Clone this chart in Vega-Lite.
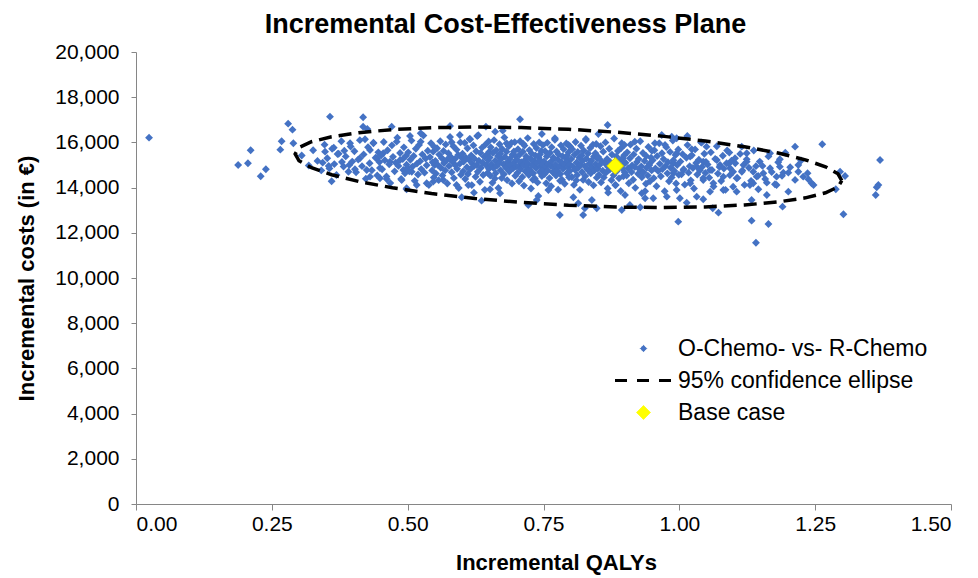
{
"$schema":"https://vega.github.io/schema/vega-lite/v6.json",
"width":815,"height":452,
"autosize":{"type":"none"},
"padding":{"left":136,"top":52,"right":27,"bottom":74},
"background":"white",
"title":{"text":"Incremental Cost-Effectiveness Plane","font":"Liberation Sans","fontSize":27,"fontWeight":"bold","color":"black","anchor":"middle","dx":-38,"offset":2},
"config":{"view":{"stroke":null},
"axis":{"domainColor":"#868686","tickColor":"#868686","tickSize":6,"grid":false,"labelFont":"Liberation Sans","labelFontSize":21,"labelColor":"black","titleFont":"Liberation Sans","titleFontSize":22,"titleFontWeight":"bold","titleColor":"black"}},
"datasets":{
"psa":[
{"qaly":0.024,"cost":16209},{"qaly":0.188,"cost":15000},{"qaly":0.206,"cost":15076},{"qaly":0.211,"cost":15651},{"qaly":0.2295,"cost":14500},{"qaly":0.239,"cost":14810},{"qaly":0.2656,"cost":15678},{"qaly":0.268,"cost":16050},{"qaly":0.28,"cost":16829},{"qaly":0.288,"cost":16563},{"qaly":0.2896,"cost":15961},{"qaly":0.357,"cost":17139},{"qaly":0.348,"cost":15590},{"qaly":0.364,"cost":15767},{"qaly":0.3436,"cost":15103},{"qaly":0.3547,"cost":14957},{"qaly":0.36,"cost":14280},{"qaly":0.371,"cost":15488},{"qaly":0.3834,"cost":15634},{"qaly":0.379,"cost":15134},{"qaly":0.394,"cost":15961},{"qaly":0.418,"cost":17111},{"qaly":0.418,"cost":16696},{"qaly":0.4257,"cost":16594},{"qaly":0.4215,"cost":16138},{"qaly":0.437,"cost":15961},{"qaly":0.4706,"cost":16696},{"qaly":0.3926,"cost":15000},{"qaly":0.403,"cost":14810},{"qaly":0.412,"cost":15297},{"qaly":0.4246,"cost":14780},{"qaly":0.4307,"cost":14483},{"qaly":0.449,"cost":14412},{"qaly":0.4614,"cost":14381},{"qaly":0.498,"cost":13925},{"qaly":0.443,"cost":15297},{"qaly":0.455,"cost":15519},{"qaly":0.4675,"cost":15147},{"qaly":0.4798,"cost":16032},{"qaly":0.486,"cost":15222},{"qaly":0.492,"cost":14780},{"qaly":0.4307,"cost":15665},
{"qaly":0.995,"cost":16182},{"qaly":1.0147,"cost":16284},{"qaly":1.0228,"cost":15696},{"qaly":1.041,"cost":15988},{"qaly":1.05,"cost":15811},{"qaly":1.1148,"cost":15811},{"qaly":1.124,"cost":15519},{"qaly":1.092,"cost":15548},{"qaly":1.1025,"cost":15297},{"qaly":1.167,"cost":15519},{"qaly":1.185,"cost":15253},{"qaly":1.213,"cost":15811},{"qaly":1.263,"cost":15917},{"qaly":1.219,"cost":15000},{"qaly":1.219,"cost":14704},{"qaly":1.2375,"cost":14368},{"qaly":1.2436,"cost":14191},{"qaly":1.2006,"cost":14660},{"qaly":1.2958,"cost":14704},{"qaly":1.305,"cost":14514},{"qaly":1.3694,"cost":15222},{"qaly":1.3663,"cost":14116},{"qaly":1.3633,"cost":14014},{"qaly":1.3614,"cost":13673},{"qaly":1.302,"cost":12819},{"qaly":1.288,"cost":13925},{"qaly":1.19,"cost":13156},{"qaly":1.164,"cost":12390},{"qaly":1.141,"cost":11562},{"qaly":1.133,"cost":12536},{"qaly":1.133,"cost":13452},{"qaly":0.998,"cost":12492},{"qaly":1.072,"cost":12890},{"qaly":1.0615,"cost":13085},{"qaly":1.0136,"cost":13333},{"qaly":1.044,"cost":13483},{"qaly":1.1454,"cost":13925},{"qaly":1.161,"cost":13673},{"qaly":1.2006,"cost":13820},{"qaly":1.179,"cost":14116},{"qaly":1.161,"cost":14218},{"qaly":1.1424,"cost":14483},{"qaly":1.13,"cost":14116},{"qaly":1.167,"cost":14855},{"qaly":1.179,"cost":14483},{"qaly":1.1914,"cost":14660},{"qaly":1.1546,"cost":14634},{"qaly":1.1055,"cost":14412},{"qaly":1.081,"cost":14483},{"qaly":1.075,"cost":15000},{"qaly":1.0933,"cost":14855},{"qaly":1.115,"cost":14704},{"qaly":1.118,"cost":15000},{"qaly":1.136,"cost":14704},{"qaly":1.099,"cost":14040},{"qaly":1.1055,"cost":13820},{"qaly":1.081,"cost":13895},{"qaly":1.0565,"cost":13820},{"qaly":1.032,"cost":13598},{"qaly":1.001,"cost":13527},{"qaly":0.995,"cost":13895},{"qaly":1.02,"cost":14191},{"qaly":1.044,"cost":14337},{"qaly":1.0626,"cost":14191},{"qaly":0.989,"cost":14634},{"qaly":1.0074,"cost":14780},{"qaly":1.032,"cost":14926},{"qaly":1.044,"cost":15147},{"qaly":1.0565,"cost":14780},{"qaly":1.02,"cost":15371},{"qaly":0.995,"cost":15519},{"qaly":0.989,"cost":15076},{"qaly":1.069,"cost":15222},{"qaly":1.087,"cost":15076},{"qaly":1.136,"cost":14191},{"qaly":1.185,"cost":14926},{"qaly":1.228,"cost":14483},{"qaly":1.124,"cost":15147},
{"qaly":0.578,"cost":16727},{"qaly":0.644,"cost":16696},{"qaly":0.661,"cost":16474},{"qaly":0.675,"cost":16519},{"qaly":0.7068,"cost":17023},{"qaly":0.5043,"cost":16284},{"qaly":0.524,"cost":16403},{"qaly":0.524,"cost":16032},{"qaly":0.596,"cost":16328},{"qaly":0.615,"cost":16138},{"qaly":0.628,"cost":16284},{"qaly":0.581,"cost":16004},{"qaly":0.713,"cost":15930},{"qaly":0.682,"cost":15961},{"qaly":0.498,"cost":13970},{"qaly":0.5166,"cost":14116},{"qaly":0.535,"cost":14191},{"qaly":0.547,"cost":14263},{"qaly":0.5995,"cost":13572},{"qaly":0.622,"cost":13775},{"qaly":0.636,"cost":13421},{"qaly":0.6516,"cost":13925},{"qaly":0.67,"cost":13749},{"qaly":0.722,"cost":13231},{"qaly":0.7375,"cost":13452},{"qaly":0.59,"cost":14116},{"qaly":0.5075,"cost":14704},{"qaly":0.489,"cost":14337},{"qaly":0.5656,"cost":14337},{"qaly":0.6116,"cost":14116},
{"qaly":0.868,"cost":16771},{"qaly":0.851,"cost":16373},{"qaly":0.828,"cost":16107},{"qaly":0.771,"cost":16182},{"qaly":0.747,"cost":16373},{"qaly":0.796,"cost":15886},{"qaly":0.9676,"cost":16328},{"qaly":0.986,"cost":16253},{"qaly":0.955,"cost":15961},{"qaly":0.9737,"cost":15886},{"qaly":0.918,"cost":16032},{"qaly":0.894,"cost":15961},{"qaly":0.78,"cost":12788},{"qaly":0.823,"cost":12788},{"qaly":0.839,"cost":13452},{"qaly":0.826,"cost":13085},{"qaly":0.848,"cost":13085},{"qaly":0.814,"cost":13306},{"qaly":0.805,"cost":13572},{"qaly":0.759,"cost":13895},{"qaly":0.7405,"cost":13629},{"qaly":0.894,"cost":13009},{"qaly":0.909,"cost":13231},{"qaly":0.937,"cost":13527},{"qaly":0.928,"cost":13129},{"qaly":0.952,"cost":13527},{"qaly":0.977,"cost":13598},{"qaly":0.931,"cost":13749},{"qaly":0.9,"cost":13673},{"qaly":0.869,"cost":13775},{"qaly":0.882,"cost":14116},
{"qaly":0.305,"cost":15420},{"qaly":0.318,"cost":14980},{"qaly":0.326,"cost":15650},{"qaly":0.334,"cost":15180},{"qaly":0.341,"cost":14760},{"qaly":0.347,"cost":15900},
{"qaly":0.352,"cost":15300},{"qaly":0.356,"cost":14850},{"qaly":0.361,"cost":15720},{"qaly":0.365,"cost":15040},{"qaly":0.369,"cost":14560},{"qaly":0.373,"cost":15500},{"qaly":0.378,"cost":16050},{"qaly":0.382,"cost":14930},{"qaly":0.386,"cost":15380},{"qaly":0.391,"cost":14700},{"qaly":0.395,"cost":15820},{"qaly":0.398,"cost":15150},
{"qaly":0.402,"cost":15610},{"qaly":0.405,"cost":14680},{"qaly":0.409,"cost":15240},{"qaly":0.412,"cost":16100},{"qaly":0.416,"cost":14950},{"qaly":0.419,"cost":15470},{"qaly":0.423,"cost":14390},{"qaly":0.427,"cost":15790},{"qaly":0.43,"cost":15080},{"qaly":0.434,"cost":14770},{"qaly":0.437,"cost":15990},{"qaly":0.441,"cost":15320},{"qaly":0.444,"cost":14540},{"qaly":0.446,"cost":15560},{"qaly":0.448,"cost":15130},{"qaly":0.449,"cost":14870},
{"qaly":0.451,"cost":15420},{"qaly":0.453,"cost":14810},{"qaly":0.456,"cost":16020},{"qaly":0.458,"cost":15210},{"qaly":0.461,"cost":14490},{"qaly":0.463,"cost":15650},{"qaly":0.466,"cost":15030},{"qaly":0.468,"cost":14200},{"qaly":0.471,"cost":15870},{"qaly":0.473,"cost":15360},{"qaly":0.476,"cost":14720},{"qaly":0.478,"cost":15100},{"qaly":0.481,"cost":16210},{"qaly":0.483,"cost":14960},{"qaly":0.486,"cost":15530},{"qaly":0.488,"cost":14380},{"qaly":0.491,"cost":15260},{"qaly":0.493,"cost":15780},{"qaly":0.495,"cost":14630},{"qaly":0.497,"cost":15410},{"qaly":0.498,"cost":15010},{"qaly":0.499,"cost":14860},
{"qaly":0.501,"cost":15560},{"qaly":0.503,"cost":14720},{"qaly":0.505,"cost":15230},{"qaly":0.507,"cost":16080},{"qaly":0.509,"cost":14930},{"qaly":0.511,"cost":15400},{"qaly":0.513,"cost":14300},{"qaly":0.515,"cost":15720},{"qaly":0.517,"cost":15060},{"qaly":0.519,"cost":14580},{"qaly":0.521,"cost":15890},{"qaly":0.523,"cost":15170},{"qaly":0.525,"cost":14820},{"qaly":0.527,"cost":15470},{"qaly":0.529,"cost":16300},{"qaly":0.531,"cost":14660},{"qaly":0.533,"cost":15290},{"qaly":0.535,"cost":14990},{"qaly":0.537,"cost":15630},{"qaly":0.539,"cost":14110},{"qaly":0.541,"cost":15350},{"qaly":0.543,"cost":15960},{"qaly":0.545,"cost":14760},{"qaly":0.546,"cost":15120},{"qaly":0.547,"cost":15590},{"qaly":0.548,"cost":14450},{"qaly":0.549,"cost":15800},{"qaly":0.5495,"cost":15000},
{"qaly":0.551,"cost":15180},{"qaly":0.552,"cost":14620},{"qaly":0.554,"cost":15740},{"qaly":0.555,"cost":15010},{"qaly":0.557,"cost":14330},{"qaly":0.558,"cost":15460},{"qaly":0.56,"cost":16050},{"qaly":0.561,"cost":14880},{"qaly":0.563,"cost":15300},{"qaly":0.564,"cost":14540},{"qaly":0.566,"cost":15620},{"qaly":0.567,"cost":15090},{"qaly":0.569,"cost":14760},{"qaly":0.57,"cost":15910},{"qaly":0.572,"cost":15220},{"qaly":0.573,"cost":14180},{"qaly":0.575,"cost":15520},{"qaly":0.576,"cost":14950},{"qaly":0.578,"cost":16240},{"qaly":0.579,"cost":15370},{"qaly":0.581,"cost":14680},{"qaly":0.582,"cost":15140},{"qaly":0.584,"cost":15830},{"qaly":0.585,"cost":14420},{"qaly":0.587,"cost":15260},{"qaly":0.588,"cost":14990},{"qaly":0.59,"cost":15680},{"qaly":0.591,"cost":14830},{"qaly":0.593,"cost":15440},{"qaly":0.594,"cost":13980},{"qaly":0.596,"cost":15060},{"qaly":0.597,"cost":16000},{"qaly":0.598,"cost":14570},{"qaly":0.599,"cost":15330},
{"qaly":0.601,"cost":15500},{"qaly":0.602,"cost":14720},{"qaly":0.603,"cost":15150},{"qaly":0.605,"cost":15980},{"qaly":0.606,"cost":14380},{"qaly":0.607,"cost":15320},{"qaly":0.609,"cost":14900},{"qaly":0.61,"cost":15740},{"qaly":0.611,"cost":14600},{"qaly":0.613,"cost":15230},{"qaly":0.614,"cost":16150},{"qaly":0.615,"cost":14810},{"qaly":0.617,"cost":15420},{"qaly":0.618,"cost":14110},{"qaly":0.619,"cost":15060},{"qaly":0.621,"cost":15870},{"qaly":0.622,"cost":14950},{"qaly":0.623,"cost":15280},{"qaly":0.625,"cost":14480},{"qaly":0.626,"cost":15610},{"qaly":0.627,"cost":15000},{"qaly":0.629,"cost":14700},{"qaly":0.63,"cost":16320},{"qaly":0.631,"cost":15190},{"qaly":0.633,"cost":14260},{"qaly":0.634,"cost":15530},{"qaly":0.635,"cost":14880},{"qaly":0.637,"cost":15770},{"qaly":0.638,"cost":15100},{"qaly":0.639,"cost":14560},{"qaly":0.641,"cost":15360},{"qaly":0.642,"cost":13900},{"qaly":0.643,"cost":15900},{"qaly":0.645,"cost":14990},{"qaly":0.646,"cost":15460},{"qaly":0.647,"cost":14650},{"qaly":0.648,"cost":15210},{"qaly":0.649,"cost":16040},{"qaly":0.6495,"cost":14830},{"qaly":0.6498,"cost":15580},
{"qaly":0.651,"cost":15330},{"qaly":0.652,"cost":14530},{"qaly":0.653,"cost":15780},{"qaly":0.654,"cost":15020},{"qaly":0.656,"cost":14210},{"qaly":0.657,"cost":15540},{"qaly":0.658,"cost":14870},{"qaly":0.659,"cost":16100},{"qaly":0.661,"cost":15190},{"qaly":0.662,"cost":14640},{"qaly":0.663,"cost":15650},{"qaly":0.664,"cost":14960},{"qaly":0.666,"cost":15400},{"qaly":0.667,"cost":13980},{"qaly":0.668,"cost":15080},{"qaly":0.669,"cost":15920},{"qaly":0.671,"cost":14770},{"qaly":0.672,"cost":15260},{"qaly":0.673,"cost":14420},{"qaly":0.674,"cost":15710},{"qaly":0.676,"cost":15030},{"qaly":0.677,"cost":14590},{"qaly":0.678,"cost":16220},{"qaly":0.679,"cost":15360},{"qaly":0.681,"cost":14880},{"qaly":0.682,"cost":15590},{"qaly":0.683,"cost":14330},{"qaly":0.684,"cost":15140},{"qaly":0.686,"cost":15830},{"qaly":0.687,"cost":14710},{"qaly":0.688,"cost":15270},{"qaly":0.689,"cost":14980},{"qaly":0.691,"cost":15980},{"qaly":0.692,"cost":14180},{"qaly":0.693,"cost":15460},{"qaly":0.694,"cost":14850},{"qaly":0.696,"cost":15120},{"qaly":0.697,"cost":16010},{"qaly":0.698,"cost":14520},{"qaly":0.699,"cost":15380},{"qaly":0.6995,"cost":14930},{"qaly":0.6955,"cost":15600},{"qaly":0.6605,"cost":14400},{"qaly":0.6705,"cost":15500},
{"qaly":0.701,"cost":15240},{"qaly":0.702,"cost":14650},{"qaly":0.703,"cost":15700},{"qaly":0.704,"cost":14960},{"qaly":0.705,"cost":14280},{"qaly":0.706,"cost":15450},{"qaly":0.707,"cost":16050},{"qaly":0.708,"cost":14820},{"qaly":0.709,"cost":15130},{"qaly":0.711,"cost":14470},{"qaly":0.712,"cost":15590},{"qaly":0.713,"cost":15010},{"qaly":0.714,"cost":14090},{"qaly":0.715,"cost":15860},{"qaly":0.716,"cost":15220},{"qaly":0.717,"cost":14710},{"qaly":0.718,"cost":15380},{"qaly":0.719,"cost":14900},{"qaly":0.721,"cost":16190},{"qaly":0.722,"cost":15060},{"qaly":0.723,"cost":14560},{"qaly":0.724,"cost":15660},{"qaly":0.725,"cost":14780},{"qaly":0.726,"cost":15290},{"qaly":0.727,"cost":13960},{"qaly":0.728,"cost":15510},{"qaly":0.729,"cost":15000},{"qaly":0.731,"cost":14630},{"qaly":0.732,"cost":15930},{"qaly":0.733,"cost":15170},{"qaly":0.734,"cost":14400},{"qaly":0.735,"cost":15420},{"qaly":0.736,"cost":14870},{"qaly":0.737,"cost":15750},{"qaly":0.738,"cost":15100},{"qaly":0.739,"cost":14230},{"qaly":0.741,"cost":15340},{"qaly":0.742,"cost":16000},{"qaly":0.743,"cost":14690},{"qaly":0.744,"cost":15210},{"qaly":0.745,"cost":14950},{"qaly":0.746,"cost":15620},{"qaly":0.747,"cost":14510},{"qaly":0.748,"cost":15050},{"qaly":0.749,"cost":15880},{"qaly":0.7495,"cost":14800},{"qaly":0.7435,"cost":15470},{"qaly":0.7305,"cost":14350},
{"qaly":0.751,"cost":15160},{"qaly":0.752,"cost":14600},{"qaly":0.753,"cost":15610},{"qaly":0.754,"cost":14930},{"qaly":0.755,"cost":14190},{"qaly":0.756,"cost":15380},{"qaly":0.757,"cost":15980},{"qaly":0.758,"cost":14760},{"qaly":0.759,"cost":15050},{"qaly":0.761,"cost":14420},{"qaly":0.762,"cost":15540},{"qaly":0.763,"cost":14980},{"qaly":0.764,"cost":14060},{"qaly":0.765,"cost":15790},{"qaly":0.766,"cost":15200},{"qaly":0.767,"cost":14680},{"qaly":0.768,"cost":15330},{"qaly":0.769,"cost":14870},{"qaly":0.771,"cost":16120},{"qaly":0.772,"cost":15010},{"qaly":0.773,"cost":14530},{"qaly":0.774,"cost":15600},{"qaly":0.775,"cost":14750},{"qaly":0.776,"cost":15250},{"qaly":0.777,"cost":13910},{"qaly":0.778,"cost":15470},{"qaly":0.779,"cost":14950},{"qaly":0.781,"cost":14600},{"qaly":0.782,"cost":15870},{"qaly":0.783,"cost":15120},{"qaly":0.784,"cost":14350},{"qaly":0.785,"cost":15390},{"qaly":0.786,"cost":14830},{"qaly":0.787,"cost":15700},{"qaly":0.788,"cost":15040},{"qaly":0.789,"cost":14170},{"qaly":0.791,"cost":15300},{"qaly":0.792,"cost":15950},{"qaly":0.793,"cost":14640},{"qaly":0.794,"cost":15180},{"qaly":0.795,"cost":14900},{"qaly":0.796,"cost":15560},{"qaly":0.797,"cost":14460},{"qaly":0.798,"cost":15020},{"qaly":0.799,"cost":15820},{"qaly":0.7985,"cost":14740},{"qaly":0.7935,"cost":15420},{"qaly":0.7805,"cost":14300},
{"qaly":0.801,"cost":15260},{"qaly":0.802,"cost":14470},{"qaly":0.803,"cost":15700},{"qaly":0.804,"cost":14940},{"qaly":0.806,"cost":14120},{"qaly":0.807,"cost":15450},{"qaly":0.808,"cost":14790},{"qaly":0.809,"cost":16020},{"qaly":0.811,"cost":15110},{"qaly":0.812,"cost":14560},{"qaly":0.813,"cost":15580},{"qaly":0.814,"cost":14880},{"qaly":0.816,"cost":15320},{"qaly":0.817,"cost":13900},{"qaly":0.818,"cost":15000},{"qaly":0.819,"cost":15850},{"qaly":0.821,"cost":14690},{"qaly":0.822,"cost":15180},{"qaly":0.823,"cost":14340},{"qaly":0.824,"cost":15640},{"qaly":0.826,"cost":14950},{"qaly":0.827,"cost":14510},{"qaly":0.828,"cost":16150},{"qaly":0.829,"cost":15280},{"qaly":0.831,"cost":14800},{"qaly":0.832,"cost":15510},{"qaly":0.833,"cost":14250},{"qaly":0.834,"cost":15060},{"qaly":0.836,"cost":15750},{"qaly":0.837,"cost":14630},{"qaly":0.838,"cost":15190},{"qaly":0.839,"cost":14900},{"qaly":0.841,"cost":15900},{"qaly":0.842,"cost":14100},{"qaly":0.843,"cost":15380},{"qaly":0.844,"cost":14770},{"qaly":0.846,"cost":15040},{"qaly":0.847,"cost":15930},{"qaly":0.848,"cost":14440},{"qaly":0.849,"cost":15300},{"qaly":0.8495,"cost":14850},{"qaly":0.8455,"cost":15520},{"qaly":0.8105,"cost":14320},{"qaly":0.8205,"cost":15420},
{"qaly":0.851,"cost":15350},{"qaly":0.852,"cost":14570},{"qaly":0.853,"cost":15000},{"qaly":0.855,"cost":15830},{"qaly":0.856,"cost":14230},{"qaly":0.857,"cost":15170},{"qaly":0.859,"cost":14750},{"qaly":0.86,"cost":15590},{"qaly":0.861,"cost":14450},{"qaly":0.863,"cost":15080},{"qaly":0.864,"cost":16000},{"qaly":0.865,"cost":14660},{"qaly":0.867,"cost":15270},{"qaly":0.868,"cost":13960},{"qaly":0.869,"cost":14910},{"qaly":0.871,"cost":15720},{"qaly":0.872,"cost":14800},{"qaly":0.873,"cost":15130},{"qaly":0.875,"cost":14330},{"qaly":0.876,"cost":15460},{"qaly":0.877,"cost":14850},{"qaly":0.879,"cost":14550},{"qaly":0.88,"cost":16170},{"qaly":0.881,"cost":15040},{"qaly":0.883,"cost":14110},{"qaly":0.884,"cost":15380},{"qaly":0.885,"cost":14730},{"qaly":0.887,"cost":15620},{"qaly":0.888,"cost":14950},{"qaly":0.889,"cost":14410},{"qaly":0.891,"cost":15210},{"qaly":0.892,"cost":13850},{"qaly":0.893,"cost":15750},{"qaly":0.895,"cost":14840},{"qaly":0.896,"cost":15310},{"qaly":0.897,"cost":14500},{"qaly":0.898,"cost":15060},{"qaly":0.899,"cost":15890},{"qaly":0.8995,"cost":14680},{"qaly":0.8985,"cost":15430},
{"qaly":0.901,"cost":15100},{"qaly":0.903,"cost":14530},{"qaly":0.904,"cost":15560},{"qaly":0.906,"cost":14860},{"qaly":0.907,"cost":14190},{"qaly":0.909,"cost":15300},{"qaly":0.91,"cost":15900},{"qaly":0.912,"cost":14690},{"qaly":0.913,"cost":14980},{"qaly":0.915,"cost":14350},{"qaly":0.916,"cost":15470},{"qaly":0.918,"cost":14910},{"qaly":0.919,"cost":13990},{"qaly":0.921,"cost":15720},{"qaly":0.922,"cost":15130},{"qaly":0.924,"cost":14610},{"qaly":0.925,"cost":15260},{"qaly":0.927,"cost":14800},{"qaly":0.928,"cost":16050},{"qaly":0.93,"cost":14940},{"qaly":0.931,"cost":14460},{"qaly":0.933,"cost":15530},{"qaly":0.934,"cost":14680},{"qaly":0.936,"cost":15180},{"qaly":0.937,"cost":13840},{"qaly":0.939,"cost":15400},{"qaly":0.94,"cost":14880},{"qaly":0.942,"cost":14530},{"qaly":0.943,"cost":15800},{"qaly":0.945,"cost":15050},{"qaly":0.946,"cost":14280},{"qaly":0.948,"cost":15320},{"qaly":0.949,"cost":14760},{"qaly":0.9495,"cost":15630},{"qaly":0.9445,"cost":14990},{"qaly":0.9385,"cost":14170},
{"qaly":0.951,"cost":15210},{"qaly":0.953,"cost":14420},{"qaly":0.954,"cost":15650},{"qaly":0.956,"cost":14850},{"qaly":0.958,"cost":14060},{"qaly":0.959,"cost":15390},{"qaly":0.961,"cost":14730},{"qaly":0.963,"cost":15960},{"qaly":0.964,"cost":15050},{"qaly":0.966,"cost":14500},{"qaly":0.968,"cost":15520},{"qaly":0.969,"cost":14820},{"qaly":0.971,"cost":15260},{"qaly":0.973,"cost":13840},{"qaly":0.974,"cost":14940},{"qaly":0.976,"cost":15790},{"qaly":0.978,"cost":14630},{"qaly":0.979,"cost":15120},{"qaly":0.981,"cost":14280},{"qaly":0.983,"cost":15580},{"qaly":0.984,"cost":14880},{"qaly":0.986,"cost":14450},{"qaly":0.988,"cost":16080},{"qaly":0.989,"cost":15210},{"qaly":0.991,"cost":14740},{"qaly":0.993,"cost":15440},{"qaly":0.994,"cost":14180},{"qaly":0.996,"cost":15000},{"qaly":0.998,"cost":15690},{"qaly":0.999,"cost":14570},
{"qaly":1.002,"cost":15150},{"qaly":1.004,"cost":14590},{"qaly":1.006,"cost":15480},{"qaly":1.008,"cost":14810},{"qaly":1.01,"cost":14130},{"qaly":1.013,"cost":15320},{"qaly":1.015,"cost":15880},{"qaly":1.017,"cost":14660},{"qaly":1.019,"cost":14950},{"qaly":1.021,"cost":14320},{"qaly":1.023,"cost":15430},{"qaly":1.025,"cost":14870},{"qaly":1.027,"cost":13960},{"qaly":1.029,"cost":15690},{"qaly":1.031,"cost":15090},{"qaly":1.033,"cost":14580},{"qaly":1.036,"cost":15230},{"qaly":1.038,"cost":14770},{"qaly":1.04,"cost":16000},{"qaly":1.042,"cost":14920},{"qaly":1.044,"cost":14420},{"qaly":1.046,"cost":15500},{"qaly":1.048,"cost":14650},{"qaly":1.049,"cost":15140},
{"qaly":1.052,"cost":15020},{"qaly":1.055,"cost":14440},{"qaly":1.058,"cost":15560},{"qaly":1.06,"cost":14780},{"qaly":1.063,"cost":14050},{"qaly":1.066,"cost":15270},{"qaly":1.069,"cost":15830},{"qaly":1.071,"cost":14620},{"qaly":1.074,"cost":14910},{"qaly":1.077,"cost":14290},{"qaly":1.08,"cost":15410},{"qaly":1.082,"cost":14840},{"qaly":1.085,"cost":13900},{"qaly":1.088,"cost":15640},{"qaly":1.091,"cost":15050},{"qaly":1.093,"cost":14550},{"qaly":1.096,"cost":15190},{"qaly":1.099,"cost":14700},
{"qaly":1.103,"cost":15080},{"qaly":1.107,"cost":14430},{"qaly":1.112,"cost":15490},{"qaly":1.116,"cost":14760},{"qaly":1.12,"cost":14120},{"qaly":1.124,"cost":15250},{"qaly":1.128,"cost":14880},{"qaly":1.132,"cost":14300},{"qaly":1.137,"cost":15640},{"qaly":1.141,"cost":14950},{"qaly":1.145,"cost":14520},{"qaly":1.148,"cost":15150},
{"qaly":1.153,"cost":14960},{"qaly":1.158,"cost":14380},{"qaly":1.164,"cost":15380},{"qaly":1.17,"cost":14690},{"qaly":1.176,"cost":14150},{"qaly":1.182,"cost":15120},{"qaly":1.189,"cost":14520},{"qaly":1.195,"cost":15540},
{"qaly":1.204,"cost":14900},{"qaly":1.213,"cost":14340},{"qaly":1.224,"cost":15200},{"qaly":1.236,"cost":14640},{"qaly":1.247,"cost":14110}
],
"ellipse":[
{"i":0,"qaly":1.299,"cost":14309},{"i":1,"qaly":1.292,"cost":14610},{"i":2,"qaly":1.269,"cost":14920},{"i":3,"qaly":1.232,"cost":15229},{"i":4,"qaly":1.182,"cost":15528},{"i":5,"qaly":1.12,"cost":15808},{"i":6,"qaly":1.048,"cost":16061},{"i":7,"qaly":0.968,"cost":16278},{"i":8,"qaly":0.883,"cost":16453},{"i":9,"qaly":0.796,"cost":16581},{"i":10,"qaly":0.709,"cost":16658},{"i":11,"qaly":0.624,"cost":16681},{"i":12,"qaly":0.544,"cost":16651},{"i":13,"qaly":0.472,"cost":16567},{"i":14,"qaly":0.41,"cost":16432},{"i":15,"qaly":0.36,"cost":16251},{"i":16,"qaly":0.323,"cost":16029},{"i":17,"qaly":0.3,"cost":15772},{"i":18,"qaly":0.293,"cost":15489},{"i":19,"qaly":0.3,"cost":15188},{"i":20,"qaly":0.323,"cost":14878},{"i":21,"qaly":0.36,"cost":14569},{"i":22,"qaly":0.41,"cost":14270},{"i":23,"qaly":0.472,"cost":13990},{"i":24,"qaly":0.544,"cost":13737},{"i":25,"qaly":0.624,"cost":13520},{"i":26,"qaly":0.709,"cost":13345},{"i":27,"qaly":0.796,"cost":13217},{"i":28,"qaly":0.883,"cost":13140},{"i":29,"qaly":0.968,"cost":13117},{"i":30,"qaly":1.048,"cost":13147},{"i":31,"qaly":1.12,"cost":13231},{"i":32,"qaly":1.182,"cost":13366},{"i":33,"qaly":1.232,"cost":13547},{"i":34,"qaly":1.269,"cost":13769},{"i":35,"qaly":1.292,"cost":14026},{"i":36,"qaly":1.299,"cost":14309}
],
"base":[{"qaly":0.882,"cost":14957}]
},
"layer":[
{"data":{"name":"psa"},"mark":{"type":"point","shape":"diamond","filled":true,"opacity":1,"size":62},
"encoding":{
"x":{"field":"qaly","type":"quantitative","scale":{"domain":[0,1.5],"nice":false,"zero":false},"axis":{"title":"Incremental QALYs","values":[0,0.25,0.5,0.75,1,1.25,1.5],"format":".2f","labelPadding":3,"titlePadding":18,"titleX":420}},
"y":{"field":"cost","type":"quantitative","scale":{"domain":[0,20000],"nice":false},"axis":{"title":"Incremental costs (in €)","values":[0,2000,4000,6000,8000,10000,12000,14000,16000,18000,20000],"format":",.0f","tickSize":5,"labelPadding":12,"titlePadding":16}},
"color":{"datum":"O-Chemo- vs- R-Chemo","type":"nominal","scale":{"domain":["O-Chemo- vs- R-Chemo","95% confidence ellipse","Base case"],"range":["#4472C4","#000000","#FFFF00"]},
"legend":{"title":null,"orient":"none","legendX":496,"legendY":285,"labelFont":"Liberation Sans","labelFontSize":23,"labelColor":"black","labelLimit":500,"rowPadding":8,"labelOffset":23,"symbolStrokeWidth":3,
"encoding":{"symbols":{
"shape":{"value":{"expr":"datum.value === '95% confidence ellipse' ? 'stroke' : 'diamond'"}},
"size":{"value":{"expr":"datum.value === '95% confidence ellipse' ? 3249 : (datum.value === 'Base case' ? 190 : 40)"}},
"fill":{"value":{"expr":"datum.value === 'O-Chemo- vs- R-Chemo' ? '#4472C4' : (datum.value === 'Base case' ? '#FFFF00' : 'transparent')"}},
"stroke":{"value":{"expr":"datum.value === '95% confidence ellipse' ? '#000000' : (datum.value === 'Base case' ? '#D4D400' : 'transparent')"}},
"strokeDash":{"value":{"expr":"datum.value === '95% confidence ellipse' ? [12,10] : [1,0]"}},
"strokeWidth":{"value":{"expr":"datum.value === '95% confidence ellipse' ? 3 : 1"}},
"opacity":{"value":1}
}}}}
}},
{"data":{"name":"ellipse"},"mark":{"type":"line","strokeWidth":3.5,"strokeDash":[13,7],"interpolate":"linear"},
"encoding":{
"x":{"field":"qaly","type":"quantitative"},
"y":{"field":"cost","type":"quantitative"},
"order":{"field":"i","type":"quantitative"},
"color":{"datum":"95% confidence ellipse","type":"nominal"}
}},
{"data":{"name":"base"},"mark":{"type":"point","shape":"diamond","filled":true,"opacity":1,"size":280,"stroke":"#D4D400","strokeWidth":1},
"encoding":{
"x":{"field":"qaly","type":"quantitative"},
"y":{"field":"cost","type":"quantitative"},
"color":{"datum":"Base case","type":"nominal"}
}}
]
}
